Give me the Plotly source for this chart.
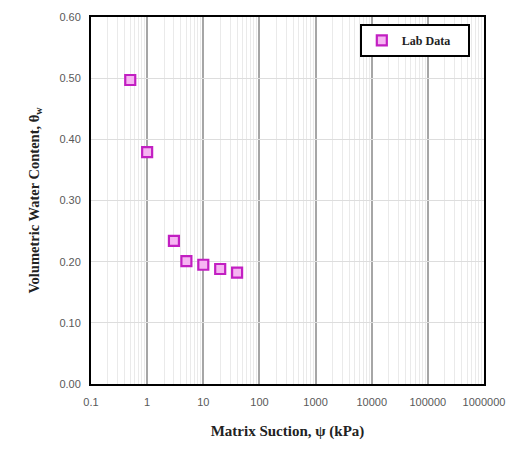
import plotly.graph_objects as go

suction_kpa = [0.5, 1, 3, 5, 10, 20, 40]
water_content = [0.497, 0.379, 0.234, 0.201, 0.195, 0.188, 0.182]

x_tickvals = [0.1, 1, 10, 100, 1000, 10000, 100000, 1000000]
x_ticktext = ["0.1", "1", "10", "100", "1000", "10000", "100000", "1000000"]
y_tickvals = [0.0, 0.1, 0.2, 0.3, 0.4, 0.5, 0.6]
y_ticktext = ["0.00", "0.10", "0.20", "0.30", "0.40", "0.50", "0.60"]

fig = go.Figure()
fig.add_trace(go.Scatter(
    x=suction_kpa, y=water_content, mode="markers",
    name="<b>Lab Data</b>&nbsp;&nbsp;&nbsp;&nbsp;",
    marker=dict(symbol="square", size=10, color="#F6B5F2",
                line=dict(color="#C21FC2", width=2.2)),
))

fig.update_layout(
    width=521, height=450,
    margin=dict(l=91, r=37, t=17, b=66),
    paper_bgcolor="white", plot_bgcolor="white",
    showlegend=True,
    legend=dict(x=0.684, y=0.981, xanchor="left", yanchor="top",
                bordercolor="black", borderwidth=2, bgcolor="white",
                font=dict(family="Liberation Serif", size=12, color="#222"),
                itemwidth=30, tracegroupgap=0),
    xaxis=dict(
        type="log", range=[-1, 6],
        tickvals=x_tickvals, ticktext=x_ticktext,
        tickfont=dict(family="Liberation Sans", size=11, color="#595959"),
        ticklabelstandoff=7,
        showgrid=True, gridcolor="#A6A6A6", gridwidth=2,
        minor=dict(showgrid=True, gridcolor="#EAEAEA", gridwidth=1, dtick="D1"),
        showline=True, linecolor="black", linewidth=2, mirror=True,
        ticks="", zeroline=False,
        title=dict(text="<b>Matrix Suction, ψ (kPa)</b>",
                   font=dict(family="Liberation Serif", size=15, color="#222"),
                   standoff=18),
    ),
    yaxis=dict(
        range=[0, 0.6],
        tickvals=y_tickvals, ticktext=y_ticktext,
        tickfont=dict(family="Liberation Sans", size=11, color="#595959"),
        ticklabelstandoff=6,
        showgrid=True, gridcolor="#DDDDDD", gridwidth=1,
        showline=True, linecolor="black", linewidth=2, mirror=True,
        ticks="", zeroline=False,
        title=dict(text="<b>Volumetric Water Content, θ<sub>w</sub></b>",
                   font=dict(family="Liberation Serif", size=14.5, color="#222"),
                   standoff=16),
    ),
)

fig.write_html("out.html")
